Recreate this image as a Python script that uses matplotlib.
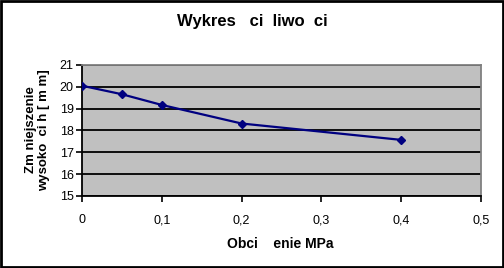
import matplotlib.pyplot as plt
from matplotlib.patches import Rectangle

# Dane: obciążenie i zmniejszenie wysokości
obciazenie = [0, 0.05, 0.1, 0.2, 0.4]
wysokosc = [20.05, 19.66, 19.17, 18.32, 17.57]
x_ticks = [0, 0.1, 0.2, 0.3, 0.4, 0.5]
x_labels = ['0', '0,1', '0,2', '0,3', '0,4', '0,5']
y_ticks = [15, 16, 17, 18, 19, 20, 21]

plt.rcParams['font.family'] = ['Liberation Sans', 'DejaVu Sans']

fig = plt.figure(figsize=(5.04, 2.68), dpi=100)
ax = fig.add_axes([0.1627, 0.2687, 0.7915, 0.4888])

ax.set_facecolor('#C0C0C0')
ax.plot(obciazenie, wysokosc, color='#000080', lw=1.6, marker='D', markersize=4.5, zorder=3)

ax.set_xlim(0, 0.5)
ax.set_ylim(15, 21)
ax.set_xticks(x_ticks)
ax.set_xticklabels(x_labels)
ax.set_yticks(y_ticks)
ax.tick_params(axis='both', labelsize=9, direction='out', length=4, width=1.2, color='black')
ax.tick_params(axis='x', pad=9)
ax.tick_params(axis='y', pad=2)
ax.grid(axis='y', color='black', lw=1.3)
ax.set_axisbelow(True)

ax.spines['left'].set_linewidth(1.3)
ax.spines['bottom'].set_linewidth(1.3)
ax.spines['top'].set_color('#808080')
ax.spines['right'].set_color('#808080')
ax.spines['top'].set_linewidth(1.3)
ax.spines['right'].set_linewidth(1.3)

fig.text(0.5, 0.918, 'Wykres   ci  liwo  ci', ha='center', va='center', fontsize=12, fontweight='bold')
fig.text(0.556, 0.088, 'Obci    enie MPa', ha='center', va='center', fontsize=10, fontweight='bold')
fig.text(0.074, 0.515, 'Zm niejszenie\nwysoko  ci h [ m m]', ha='center', va='center',
         rotation=90, fontsize=9.5, fontweight='bold', linespacing=1.1)

# ramka wokół wykresu
fig.patches.append(Rectangle((0.002, 0.004), 0.996, 0.992, transform=fig.transFigure,
                             fill=False, edgecolor='black', lw=2))

fig.savefig('out.png', dpi=100)
